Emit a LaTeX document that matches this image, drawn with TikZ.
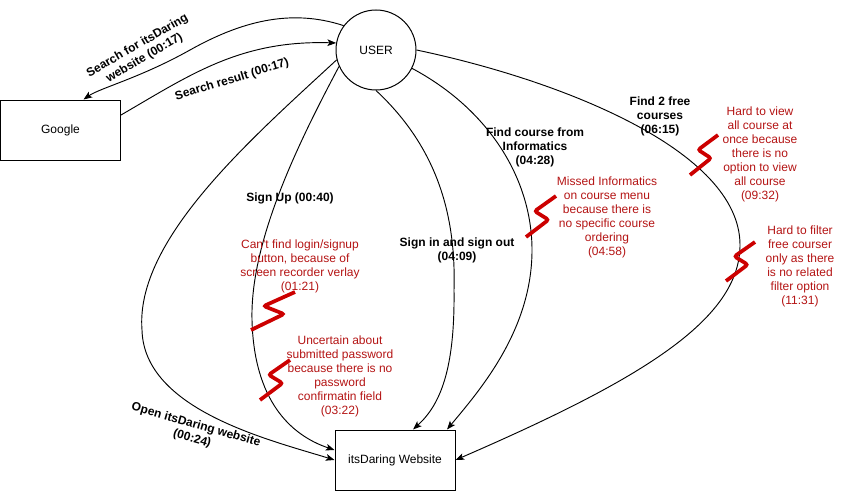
\documentclass[tikz,border=0pt]{standalone}
\usepackage{fontspec}
\setmainfont{Liberation Sans}
\usetikzlibrary{calc,arrows.meta}
\definecolor{zigred}{RGB}{204,0,0}
\definecolor{txtred}{RGB}{180,20,20}
\begin{document}
\begin{tikzpicture}[x=0.75pt,y=-0.75pt,
  font=\fontsize{9}{10.5}\selectfont,
  box/.style={draw, line width=0.75pt, minimum width=90pt, minimum height=45pt, inner sep=0pt},
  actor/.style={draw, circle, line width=0.75pt, minimum size=60pt, inner sep=0pt},
  flow/.style={line width=0.7pt, -{Stealth[length=6.5pt,width=5pt,inset=1.5pt]}},
  lbl/.style={font=\fontsize{9}{10.5}\selectfont\bfseries, align=center, inner sep=0pt},
  note/.style={text=txtred, align=center, inner sep=0pt},
  zigline/.style={draw=zigred, line width=2.8pt, rounded corners=1.8pt},
  zig/.pic={\draw[zigline] (0,0) -- (0.75,-0.42) -- (0.29,-0.63) -- (1,-1);}
]
\useasboundingbox (0,0) rectangle (841,492);

% nodes
\node[actor] (user) at (376,50) {USER};
\node[box] (google) at (60.5,130) {Google};
\node[box] (web) at (395,460) {itsDaring Website};

% connector end points
\coordinate (gtop) at ($(google.north)+(23,0)$);
\coordinate (gright) at ($(google.east)+(0,-15)$);
\coordinate (wsignup) at ($(web.west)+(0,-10)$);
\coordinate (wsignin) at ($(web.north)+(18,0)$);
\coordinate (wcourse) at ($(web.north)+(52,0)$);

% connectors
\draw[flow] (user.143) .. controls (290,8) and (240,22) .. (190,50)
  .. controls (140,78) and (100,88) .. (gtop);
\draw[flow] (gright) .. controls (190,75) and (240,40) .. (user.170);
\draw[flow] (user.194) .. controls (250,140) and (135,240) .. (142,330)
  .. controls (144,410) and (270,440) .. (web.west);
\draw[flow] (user.204) .. controls (300,140) and (250,240) .. (252,320)
  .. controls (254,400) and (290,435) .. (wsignup);
\draw[flow] (user.270) .. controls (440,150) and (456,220) .. (454,290)
  .. controls (455,370) and (440,405) .. (wsignin);
\draw[flow] (user.333) .. controls (490,110) and (532,180) .. (532,250)
  .. controls (532,330) and (480,390) .. (wcourse);
\draw[flow] (user.0) .. controls (560,80) and (740,150) .. (740,245)
  .. controls (740,320) and (640,380) .. (web.east);

% connector labels
\node[lbl, rotate=30] (l1) at (141,52) {Search for itsDaring\\website (00:17)};
\node[lbl, rotate=17] (l2) at (232,80) {Search result (00:17)};
\node[lbl, rotate=-16] (l3) at (194,432) {Open itsDaring website\\(00:24)};
\node[lbl] (l4) at (290,198) {Sign Up (00:40)};
\node[lbl] (l5) at (457,250) {Sign in and sign out\\(04:09)};
\node[lbl] (l6) at (535,147) {Find course from\\Informatics\\(04:28)};
\node[lbl] (l7) at (660,116) {Find 2 free\\courses\\(06:15)};

% pain points
\node[note] (n1) at (300,266) {Can\textquotesingle t find login/signup\\button, because of\\screen recorder verlay\\(01:21)};
\node[note] (n2) at (340,376) {Uncertain about\\submitted password\\because there is no\\password\\confirmatin field\\(03:22)};
\node[note] (n3) at (607,217) {Missed Informatics\\on course menu\\because there is\\no specific course\\ordering\\(04:58)};
\node[note] (n4) at (760,154) {Hard to view\\all course at\\once because\\there is no\\option to view\\all course\\(09:32)};
\node[note] (n5) at (800,266) {Hard to filter\\free courser\\only as there\\is no related\\filter option\\(11:31)};

% zigzag marks
\path (251,330) pic[xscale=44,yscale=38] {zig};
\path (260,400) pic[xscale=30,yscale=40] {zig};
\path (526,237) pic[xscale=30,yscale=41] {zig};
\path (690,175) pic[xscale=28,yscale=40] {zig};
\path (726,281) pic[xscale=29,yscale=39] {zig};
\end{tikzpicture}
\end{document}
